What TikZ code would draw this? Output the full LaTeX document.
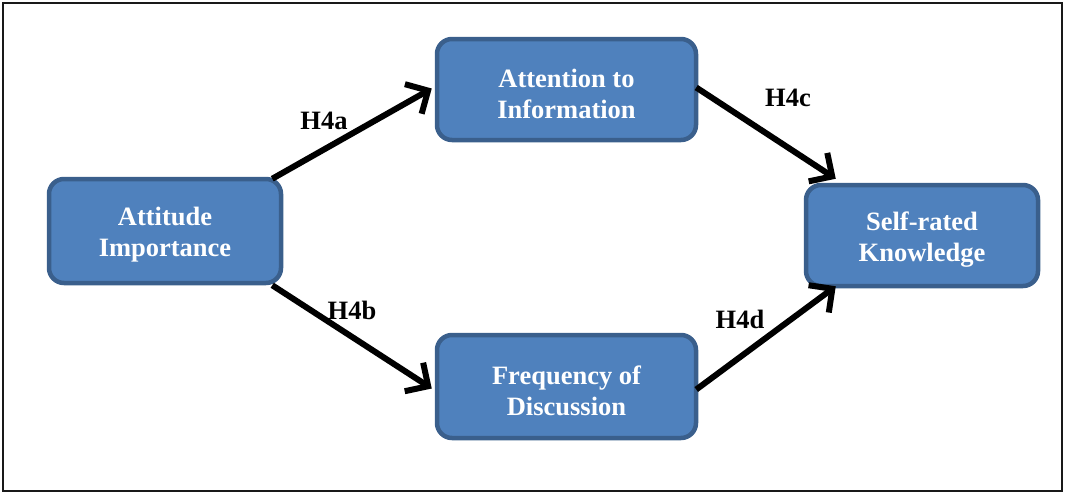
\documentclass[tikz,border=0pt]{standalone}
\usepackage{fontspec}
\setmainfont{Liberation Serif}
\usetikzlibrary{arrows.meta}
\definecolor{boxfill}{HTML}{4F81BD}
\definecolor{boxline}{HTML}{3A5F8C}
% strut that lowers the two-line text block a little inside its box
\newcommand{\toplift}{\rule{0pt}{26.5pt}}
\begin{document}
\begin{tikzpicture}[x=1pt,y=-1pt,
  concept/.style={draw=boxline, line width=4.5pt, fill=boxfill, rounded corners=15pt,
    text=white, font=\fontsize{26.5}{31}\selectfont\bfseries, align=center,
    inner sep=0pt, minimum height=102pt},
  hyp/.style={font=\fontsize{26.5}{31}\selectfont\bfseries, text=black, inner sep=0pt},
  link/.style={line width=6pt, -{Straight Barb[length=17pt,width=34pt]}}]
  % page frame
  \useasboundingbox (0,0) rectangle (1065,493);
  \draw[line width=2.5pt, black!90] (3,3) rectangle (1062,491);

  % constructs
  \node[concept, minimum width=232pt, minimum height=104pt] (ai) at (165,231) {\toplift Attitude\\Importance};
  \node[concept, minimum width=259pt, minimum height=101pt] (at) at (566.5,89.5) {\toplift Attention to\\Information};
  \node[concept, minimum width=259pt, minimum height=103pt] (fq) at (566.5,386.5) {\toplift Frequency of\\Discussion};
  \node[concept, minimum width=232pt, minimum height=101pt] (sk) at (922,235.5) {\toplift Self-rated\\Knowledge};

  % hypothesised paths
  \draw[link] ([xshift=-11pt,yshift=-2pt]ai.north east) -- ([xshift=-3pt,yshift=1pt]at.west);
  \draw[link] ([xshift=-11pt]ai.south east) -- ([xshift=-3pt,yshift=-2pt]fq.west);
  \draw[link] ([xshift=-2pt,yshift=2pt]at.east) -- ([xshift=32pt,yshift=4pt]sk.north west);
  \draw[link] ([xshift=-2pt,yshift=-3pt]fq.east) -- ([xshift=32pt,yshift=2pt]sk.south west);

  % path labels
  \node[hyp] (h4a) at (324,121) {H4a};
  \node[hyp] (h4b) at (352,310) {H4b};
  \node[hyp] (h4c) at (788,98) {H4c};
  \node[hyp] (h4d) at (740,319) {H4d};
\end{tikzpicture}
\end{document}
